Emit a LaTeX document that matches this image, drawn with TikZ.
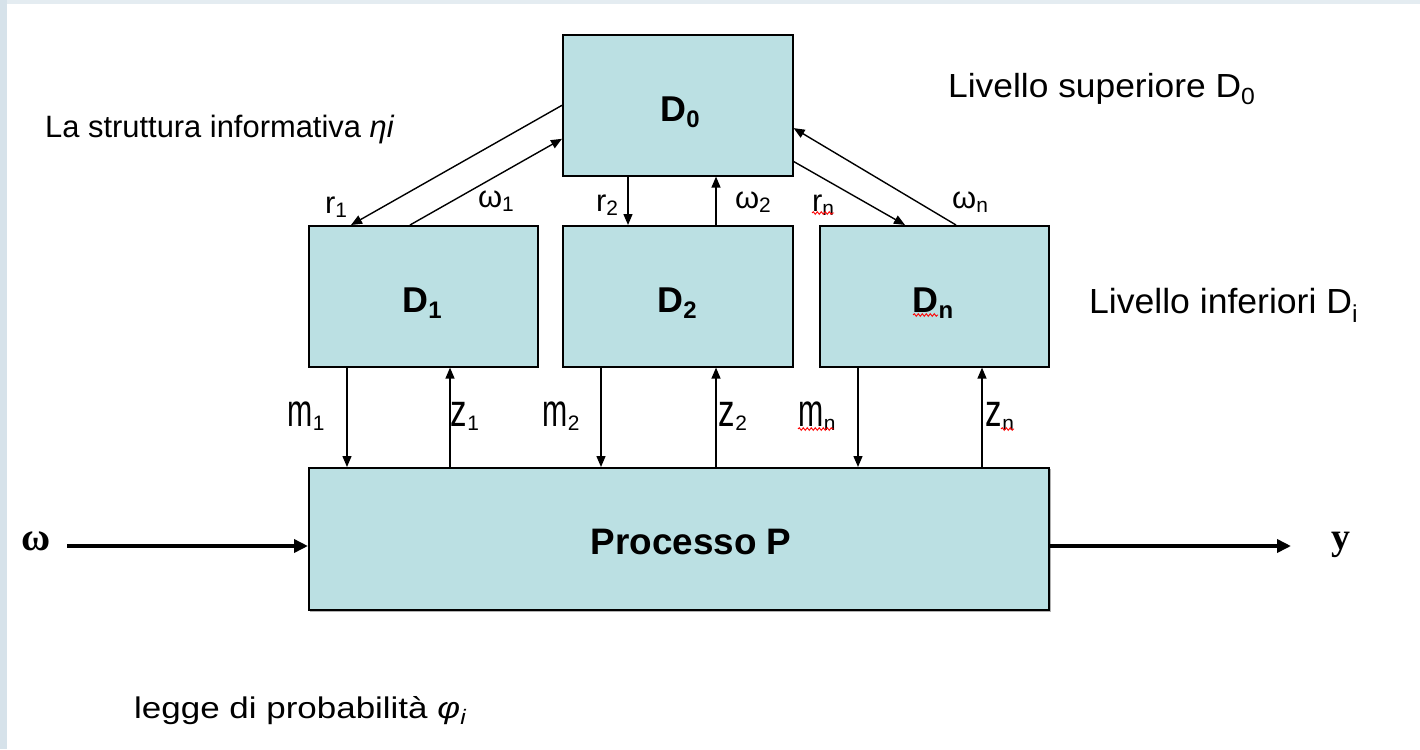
\documentclass[tikz,border=0pt]{standalone}
\usepackage{fontspec}
\setmainfont{Liberation Sans}
\newfontfamily\serifbold{Liberation Serif}[BoldFont={Liberation Serif Bold}]
\usetikzlibrary{arrows.meta,decorations.pathmorphing,calc}
\definecolor{boxfill}{RGB}{187,224,227}
\definecolor{framecol}{RGB}{214,226,234}
\definecolor{framecoltop}{RGB}{228,236,241}
\newcommand\lsb[1]{\raisebox{-4bp}{\fontsize{21}{21}\selectfont #1}}
\newcommand\dsb[1]{\raisebox{-6bp}{\fontsize{24}{24}\selectfont #1}}
\begin{document}
\begin{tikzpicture}[x=1bp,y=-1bp,
  blk/.style={draw=black, line width=1.6bp, fill=boxfill, inner sep=0, anchor=north west},
  txt/.style={inner sep=0, anchor=base west},
  ulab/.style={inner sep=0, anchor=base, font=\fontsize{31}{36}\selectfont},
  llab/.style={inner sep=0, anchor=base, font=\fontsize{46}{50}\selectfont},
  big/.style={inner sep=0, anchor=base, font=\bfseries\fontsize{36}{40}\selectfont},
  arr/.style={line width=1.4bp, -{Triangle[length=11bp,width=9bp]}},
  bigarr/.style={line width=4bp, -{Triangle[length=14bp,width=13bp]}},
  squig/.style={red, line width=0.9bp, decorate, decoration={snake, segment length=4bp, amplitude=1.3bp}},
]
\useasboundingbox (0,0) rectangle (1420,749);
\fill[white] (0,0) rectangle (1420,749);
\fill[framecoltop] (0,0) rectangle (1420,4);
\fill[framecol] (0,0) rectangle (7,749);

% boxes
\fill[gray!60] (310,469) rectangle (1051,612);
\node[blk, minimum width=230bp, minimum height=141bp] (D0) at (562,34) {};
\node[blk, minimum width=229bp, minimum height=141bp] (D1) at (308,225) {};
\node[blk, minimum width=230bp, minimum height=141bp] (D2) at (562,225) {};
\node[blk, minimum width=229bp, minimum height=141bp] (Dn) at (819,225) {};
\node[blk, minimum width=740bp, minimum height=142bp] (P) at (308,467) {};

% box labels
\node[big] (tD0) at (680,121) {D\dsb{0}};
\node[big] (tD1) at (422,312) {D\dsb{1}};
\node[big] (tD2) at (677,312) {D\dsb{2}};
\node[big] (tDn) at (933,312) {D\dsb{n}};
\node[inner sep=0, anchor=base, font=\bfseries\fontsize{37}{42}\selectfont] (tP) at (691,554) {Processo P};

% side texts
\node[txt, font=\fontsize{33.5}{38}\selectfont] (sup) at (948,97) {\scalebox{1.06}[1]{Livello superiore D\textsubscript{0}}};
\node[txt, font=\fontsize{35}{40}\selectfont] (inf) at (1089,313) {\scalebox{1.02}[1]{Livello inferiori D\textsubscript{i}}};
\node[txt, font=\fontsize{31}{36}\selectfont] (info) at (45,137) {La struttura informativa \textit{ηi}};
\node[txt, font=\fontsize{30}{36}\selectfont] (legge) at (134,718) {\scalebox{1.17}[1]{legge di probabilità \textit{φ}\textsubscript{\textit{i}}}};

% coordinates for vertical connectors
\coordinate (xr2) at (628,0);
\coordinate (xw2) at (716,0);
\coordinate (xm1) at (347,0);
\coordinate (xz1) at (450,0);
\coordinate (xm2) at (601,0);
\coordinate (xz2) at (716,0);
\coordinate (xmn) at (858,0);
\coordinate (xzn) at (982,0);

% D0 <-> D_i
\draw[arr] (D0.west) -- ($(D1.north west)+(43,0)$);
\draw[arr] ($(D1.north west)+(102,0)$) -- ($(D0.north west)!0.735!(D0.south west)$);
\draw[arr] (D0.south -| xr2) -- (D2.north -| xr2);
\draw[arr] (D2.north -| xw2) -- (D0.south -| xw2);
\draw[arr] ($(D0.north east)!0.894!(D0.south east)$) -- ($(Dn.north west)+(86,0)$);
\draw[arr] ($(Dn.north west)+(137,0)$) -- ($(D0.north east)!0.66!(D0.south east)$);

% D_i <-> P
\draw[arr] (D1.south -| xm1) -- (P.north -| xm1);
\draw[arr] (P.north -| xz1) -- (D1.south -| xz1);
\draw[arr] (D2.south -| xm2) -- (P.north -| xm2);
\draw[arr] (P.north -| xz2) -- (D2.south -| xz2);
\draw[arr] (Dn.south -| xmn) -- (P.north -| xmn);
\draw[arr] (P.north -| xzn) -- (Dn.south -| xzn);

% input / output
\node[inner sep=0, font=\serifbold\bfseries\fontsize{40}{44}\selectfont] (win) at (36,541) {ω};
\node[inner sep=0, font=\serifbold\bfseries\fontsize{38}{44}\selectfont] (yout) at (1341,545) {y};
\coordinate (wstart) at (67,546);
\coordinate (yend) at (1291,546);
\draw[bigarr] (wstart) -- (P.west |- wstart);
\draw[bigarr] (P.east |- yend) -- (yend);

% connector labels
\node[ulab] (lr1) at (336,213) {r\lsb{1}};
\node[ulab] (lw1) at (496,207) {ω\lsb{1}};
\node[ulab] (lr2) at (607,211) {r\lsb{2}};
\node[ulab] (lw2) at (753,208) {ω\lsb{2}};
\node[ulab] (lrn) at (823,211) {r\lsb{n}};
\node[ulab] (lwn) at (970,208) {ω\lsb{n}};
\node[llab] (lm1) at (306,426) {\scalebox{0.66}[1]{m}\lsb{1}};
\node[llab] (lz1) at (465,426) {\scalebox{0.72}[1]{z}\lsb{1}};
\node[llab] (lm2) at (561,426) {\scalebox{0.66}[1]{m}\lsb{2}};
\node[llab] (lz2) at (733,426) {\scalebox{0.72}[1]{z}\lsb{2}};
\node[llab] (lmn) at (817,426) {\scalebox{0.66}[1]{m}\lsb{n}};
\node[llab] (lzn) at (1000,426) {\scalebox{0.72}[1]{z}\lsb{n}};

% spell-check squiggles
\draw[squig] (812,213) -- (834,213);
\draw[squig] (798,429) -- (834,429);
\draw[squig] (1001,429) -- (1014,429);
\draw[squig] (913,315) -- (938,315);
\end{tikzpicture}
\end{document}
